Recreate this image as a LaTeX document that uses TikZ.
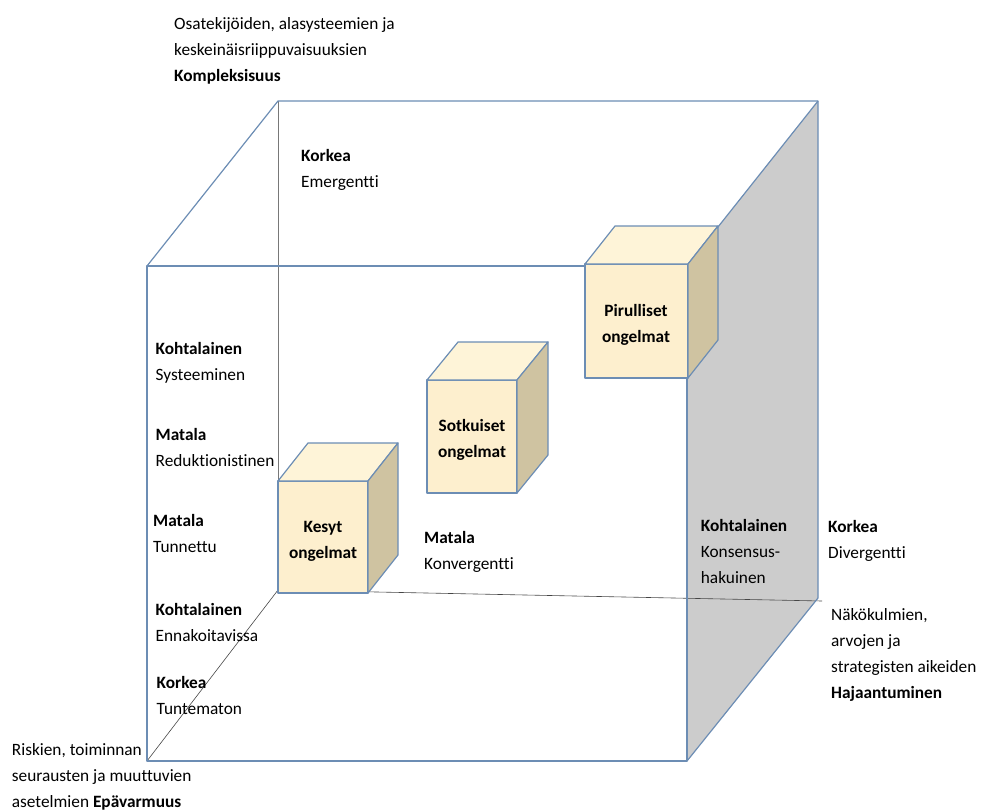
\documentclass[tikz,border=0pt]{standalone}
\usepackage{fontspec}
\setmainfont{Carlito}[Ligatures=NoCommon]
\usepackage{tikz}

\definecolor{edgeblue}{RGB}{108,141,180}
\definecolor{sidegray}{RGB}{204,204,204}
\definecolor{cubefront}{RGB}{253,239,206}
\definecolor{cubetop}{RGB}{254,244,216}
\definecolor{cubeside}{RGB}{207,195,161}

\tikzset{
  edge/.style={draw=edgeblue, line width=1.2pt, line join=round},
  thinline/.style={draw={rgb,255:red,70;green,70;blue,70}, line width=0.6pt},
  frontface/.style={edge, fill=cubefront},
  topface/.style={edge, fill=cubetop},
  sideface/.style={edge, fill=cubeside},
  lbl/.style={anchor=base west, inner sep=0pt, align=left, font=\fontsize{17.3}{26}\selectfont},
  cubelbl/.style={anchor=base, inner sep=0pt, align=center, font=\fontsize{17.3}{26}\selectfont\bfseries}
}

\begin{document}
\begin{tikzpicture}[x=1pt,y=1pt,yscale=-1,xscale=1]
\useasboundingbox (0,0) rectangle (982,811);

% corners of the big cube
\coordinate (ftl) at (147,266);
\coordinate (ftr) at (687,266);
\coordinate (fbl) at (147,761);
\coordinate (fbr) at (687,761);
\coordinate (btl) at (278,101);
\coordinate (btr) at (818,101);
\coordinate (bbl) at (278,590);
\coordinate (bbr) at (818,598);
\coordinate (bbe) at (822,601);

%Shape: Polygon (right face)
\fill [sidegray] (ftr) -- (btr) -- (bbr) -- (fbr) -- cycle ;

%Straight Lines (hidden edges)
\draw [thinline, draw={rgb,255:red,120;green,120;blue,120}] (btl) -- (bbl) ;
\draw [thinline] (bbl) -- (bbe) ;
\draw [thinline] (fbl) -- (bbl) ;

%Straight Lines (visible edges)
\draw [edge] (ftl) -- (btl) -- (btr) -- (bbr) -- (fbr) ;
\draw [edge] (btr) -- (ftr) ;
\draw [edge] (ftl) rectangle (fbr) ;

%Shape: Cube
\draw [frontface] (278,481) rectangle (368,593) ;
\draw [topface] (278,481) -- (308,443) -- (398,443) -- (368,481) -- cycle ;
\draw [sideface] (368,481) -- (398,443) -- (398,555) -- (368,593) -- cycle ;
%Shape: Cube
\draw [frontface] (427,380) rectangle (517,493) ;
\draw [topface] (427,380) -- (458,342) -- (548,342) -- (517,380) -- cycle ;
\draw [sideface] (517,380) -- (548,342) -- (548,455) -- (517,493) -- cycle ;
%Shape: Cube
\draw [frontface] (585,264) rectangle (688,378) ;
\draw [topface] (585,264) -- (615,226) -- (718,226) -- (688,264) -- cycle ;
\draw [sideface] (688,264) -- (718,226) -- (718,340) -- (688,378) -- cycle ;

% Text Node
\node [cubelbl] (kesyt) at (323,558) {Kesyt\\ongelmat};
% Text Node
\node [cubelbl] (sotkuiset) at (472,457) {Sotkuiset\\ongelmat};
% Text Node
\node [cubelbl] (pirulliset) at (636,342) {Pirulliset\\ongelmat};

% Text Node
\node [lbl] (kompleksisuus) at (174,81) {Osatekijöiden, alasysteemien ja\\keskeinäisriippuvaisuuksien\\\textbf{Kompleksisuus}};
% Text Node
\node [lbl] (emergentti) at (301,187) {\textbf{Korkea}\\Emergentti};
% Text Node
\node [lbl] (systeeminen) at (155.5,380.5) {\textbf{Kohtalainen}\\Systeeminen};
% Text Node
\node [lbl] (reduktionistinen) at (155.5,466.7) {\textbf{Matala}\\Reduktionistinen};
% Text Node
\node [lbl] (tunnettu) at (153,552.7) {\textbf{Matala}\\Tunnettu};
% Text Node
\node [lbl] (ennakoitavissa) at (155.5,641.7) {\textbf{Kohtalainen}\\Ennakoitavissa};
% Text Node
\node [lbl] (tuntematon) at (156.5,714) {\textbf{Korkea}\\Tuntematon};
% Text Node
\node [lbl] (epavarmuus) at (11.7,807.7) {Riskien, toiminnan\\seurausten ja muuttuvien\\asetelmien \textbf{Epävarmuus}};
% Text Node
\node [lbl] (konvergentti) at (424,569) {\textbf{Matala}\\Konvergentti};
% Text Node
\node [lbl] (konsensus) at (700.7,583) {\textbf{Kohtalainen}\\Konsensus-\\hakuinen};
% Text Node
\node [lbl] (divergentti) at (828,558) {\textbf{Korkea}\\Divergentti};
% Text Node
\node [lbl] (hajaantuminen) at (831,698) {Näkökulmien,\\arvojen ja\\strategisten aikeiden\\\textbf{Hajaantuminen}};

\end{tikzpicture}
\end{document}
